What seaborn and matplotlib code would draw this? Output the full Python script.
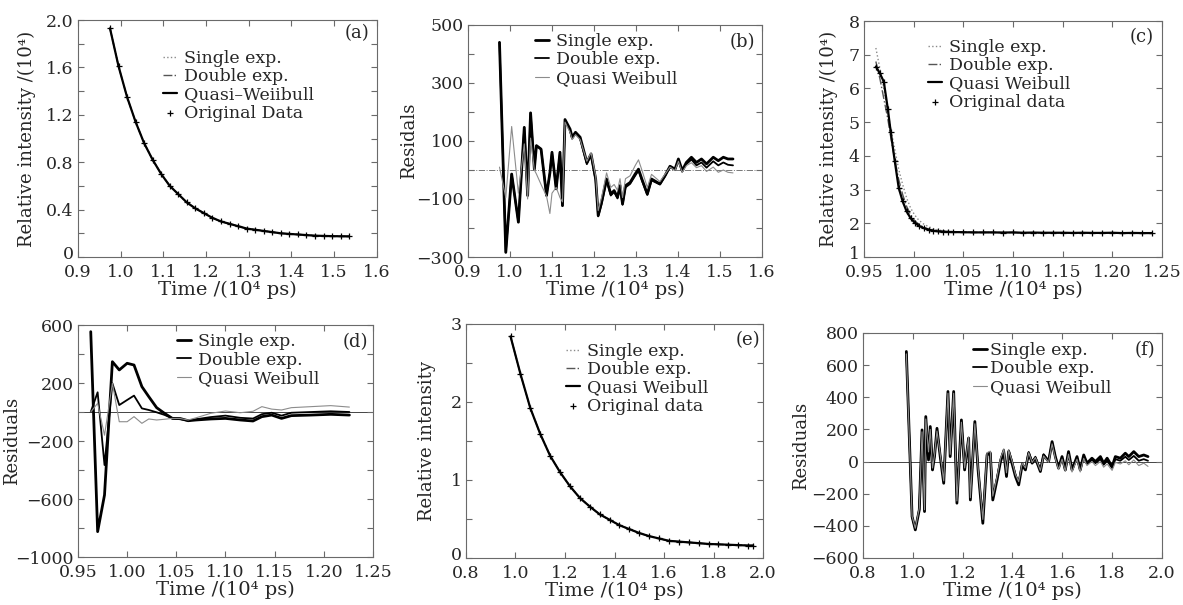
import numpy as np
import matplotlib
matplotlib.use("Agg")
import matplotlib.pyplot as plt
import matplotlib.transforms as mtransforms
import seaborn as sns
from matplotlib.ticker import MultipleLocator

# ─────────────────────────────────────────
# Data (time in 10^4 ps)
# ─────────────────────────────────────────
# (a) decay curve, fits coincide with the data
time_a = [0.975, 0.995, 1.015, 1.035, 1.055, 1.075, 1.095, 1.115, 1.135, 1.155,
          1.175, 1.195, 1.215, 1.235, 1.255, 1.275, 1.295, 1.315, 1.335, 1.355,
          1.375, 1.395, 1.415, 1.435, 1.455, 1.475, 1.495, 1.515, 1.535]
int_a = [1.93, 1.61, 1.35, 1.14, 0.96, 0.82, 0.70, 0.60, 0.53, 0.46,
         0.41, 0.37, 0.33, 0.30, 0.28, 0.26, 0.24, 0.23, 0.22, 0.21,
         0.20, 0.195, 0.19, 0.185, 0.18, 0.178, 0.176, 0.175, 0.174]

# (b) residuals for (a)
time_b = [0.975, 0.990, 1.004, 1.020, 1.034, 1.042, 1.049, 1.058, 1.063, 1.074,
          1.087, 1.095, 1.100, 1.110, 1.119, 1.125, 1.131, 1.143, 1.148, 1.156,
          1.167, 1.183, 1.193, 1.204, 1.210, 1.218, 1.230, 1.240, 1.248, 1.256,
          1.262, 1.268, 1.275, 1.286, 1.298, 1.306, 1.314, 1.327, 1.337, 1.357,
          1.369, 1.381, 1.393, 1.401, 1.410, 1.420, 1.432, 1.444, 1.456, 1.468,
          1.484, 1.496, 1.508, 1.519, 1.531]
single_b = [440, -284, -14, -180, 147, -88, 197, 3, 84, 72,
            -88, -10, 61, -65, 61, -123, 174, 141, 113, 130,
            113, 26, 55, -31, -157, -112, -31, -83, -71, -94,
            -54, -117, -54, -43, -14, 3, -31, -83, -31, -48,
            -20, 13, 3, 38, -2, 26, 44, 26, 38, 21,
            44, 32, 44, 38, 38]
double_b = [440, -284, -14, -180, 147, -88, 197, 3, 84, 72,
            -88, -10, 61, -65, 61, -123, 170, 135, 108, 125,
            108, 20, 50, -36, -160, -118, -36, -88, -76, -98,
            -60, -120, -60, -48, -20, -2, -36, -86, -36, -50,
            -22, 10, 0, 34, -6, 20, 36, 16, 26, 8,
            30, 16, 26, 18, 16]
quasi_b = [10, -95, 150, -80, 90, -100, 110, 0, -14, -50,
           -90, -150, -80, -60, -95, -110, 165, 130, 105, 122,
           105, 30, 60, -20, -140, -95, -10, -60, -50, -70,
           -30, -95, -30, -20, 15, 35, 0, -60, -15, -40,
           -15, 10, -2, 30, -8, 15, 25, 8, 15, -5,
           10, -8, 0, -8, -10]

# (c) decay curve with three fits
time_c = [0.962, 0.966, 0.970, 0.974, 0.977, 0.981, 0.985, 0.989, 0.993, 0.997,
          1.001, 1.005, 1.010, 1.015, 1.020, 1.025, 1.030, 1.035, 1.040, 1.050,
          1.060, 1.070, 1.080, 1.090, 1.100, 1.110, 1.120, 1.130, 1.140, 1.150,
          1.160, 1.170, 1.180, 1.190, 1.200, 1.210, 1.220, 1.230, 1.240]
data_c = [6.65, 6.45, 6.20, 5.40, 4.70, 3.85, 3.05, 2.65, 2.35, 2.15,
          2.02, 1.93, 1.86, 1.81, 1.78, 1.76, 1.75, 1.745, 1.74, 1.735,
          1.73, 1.73, 1.73, 1.725, 1.73, 1.72, 1.725, 1.72, 1.72, 1.72,
          1.715, 1.72, 1.715, 1.715, 1.72, 1.71, 1.715, 1.71, 1.71]
single_c = [7.20, 6.60, 6.00, 5.30, 4.80, 4.20, 3.60, 3.15, 2.75, 2.45,
            2.25, 2.10, 1.98, 1.90, 1.84, 1.80, 1.78, 1.76, 1.75, 1.74,
            1.73, 1.73, 1.73, 1.725, 1.725, 1.72, 1.72, 1.72, 1.72, 1.72,
            1.715, 1.715, 1.715, 1.715, 1.715, 1.71, 1.71, 1.71, 1.71]
double_c = [6.80, 6.30, 5.70, 5.10, 4.55, 3.90, 3.30, 2.85, 2.50, 2.25,
            2.08, 1.97, 1.88, 1.83, 1.80, 1.78, 1.76, 1.75, 1.745, 1.74,
            1.73, 1.73, 1.73, 1.725, 1.725, 1.72, 1.72, 1.72, 1.72, 1.72,
            1.715, 1.715, 1.715, 1.715, 1.715, 1.71, 1.71, 1.71, 1.71]

# (d) residuals for (c)
time_d = [0.963, 0.970, 0.977, 0.985, 0.992, 1.000, 1.007, 1.015, 1.022, 1.030,
          1.038, 1.046, 1.054, 1.062, 1.070, 1.085, 1.100, 1.115, 1.128, 1.137,
          1.147, 1.157, 1.167, 1.187, 1.207, 1.226]
single_d = [554, -825, -572, 347, 290, 336, 324, 175, 106, 30,
            -9, -44, -45, -60, -55, -48, -44, -55, -62, -32,
            -21, -44, -25, -21, -16, -21]
double_d = [0, 136, -366, 198, 48, 83, 113, 25, 14, -2,
            -20, -44, -50, -60, -50, -35, -25, -40, -45, -15,
            -5, -25, -5, 0, 5, 0]
quasi_d = [0, 60, -160, 198, -67, -67, -32, -78, -48, -55,
           -50, -44, -45, -55, -40, -9, 7, -5, 5, 37,
           20, 14, 30, 37, 44, 34]

# (e) decay curve, fits coincide with the data
time_e = [0.98, 1.02, 1.06, 1.10, 1.14, 1.18, 1.22, 1.26, 1.30, 1.34,
          1.38, 1.42, 1.46, 1.50, 1.54, 1.58, 1.62, 1.66, 1.70, 1.74,
          1.78, 1.82, 1.86, 1.90, 1.94, 1.96]
int_e = [2.84, 2.36, 1.92, 1.59, 1.31, 1.10, 0.92, 0.77, 0.66, 0.56,
         0.49, 0.42, 0.37, 0.32, 0.28, 0.25, 0.22, 0.21, 0.20, 0.19,
         0.18, 0.175, 0.17, 0.165, 0.16, 0.16]

# (f) residuals for (e)
time_f = [0.974, 0.997, 1.010, 1.026, 1.037, 1.047, 1.052, 1.063, 1.070, 1.079,
          1.087, 1.097, 1.110, 1.124, 1.141, 1.150, 1.164, 1.177, 1.195, 1.208,
          1.224, 1.231, 1.249, 1.262, 1.281, 1.298, 1.311, 1.321, 1.338, 1.352,
          1.365, 1.376, 1.385, 1.398, 1.412, 1.425, 1.439, 1.452, 1.465, 1.479,
          1.492, 1.512, 1.525, 1.545, 1.559, 1.572, 1.585, 1.599, 1.612, 1.625,
          1.639, 1.659, 1.672, 1.686, 1.699, 1.719, 1.733, 1.753, 1.766, 1.780,
          1.800, 1.813, 1.833, 1.853, 1.867, 1.887, 1.907, 1.927, 1.944]
single_f = [685, -342, -425, -300, 197, -311, 280, 10, 218, -52,
            31, 207, 31, -135, 436, 31, 436, -259, 259, -52,
            145, -239, 249, -52, -384, 41, 52, -239, -114, 0,
            62, -93, 62, -10, -93, -145, -21, -52, 52, -10,
            21, -62, 41, 0, 124, 31, -41, 31, -52, 62,
            -52, 31, -52, 41, -10, 21, 0, 31, -10, 21,
            -31, 31, 21, 52, 31, 62, 31, 41, 31]
double_f = [680, -345, -420, -295, 190, -305, 270, 20, 210, -45,
            35, 200, 40, -125, 430, 40, 430, -250, 250, -45,
            150, -230, 240, -45, -370, 50, 60, -220, -100, 15,
            75, -75, 70, 5, -80, -130, -10, -40, 60, 0,
            30, -50, 45, 5, 120, 30, -40, 25, -55, 55,
            -55, 25, -55, 30, -15, 10, -10, 15, -20, 5,
            -40, 15, 5, 30, 10, 35, 5, 15, 5]
quasi_f = [670, -340, -415, -290, 185, -300, 265, 60, 200, -40,
           40, 190, 45, -120, 425, 45, 425, -245, 245, -40,
           150, -225, 235, -40, -360, 55, 65, -215, -95, 20,
           75, -70, 70, 5, -80, -125, -10, -40, 55, -5,
           25, -55, 35, -5, 110, 20, -50, 15, -60, 45,
           -65, 15, -65, 20, -25, 0, -25, 0, -35, -15,
           -55, -5, -15, 5, -20, 10, -25, -10, -30]

# ─────────────────────────────────────────
# Style
# ─────────────────────────────────────────
sns.set_style("ticks")
plt.rcParams['font.family'] = ['DejaVu Serif']
plt.rcParams['font.size'] = 12.5
plt.rcParams['axes.unicode_minus'] = True

FRAME = '#6a6a6a'
LIGHT = '#8c8c8c'

fig = plt.figure(figsize=(11.83, 6.05), dpi=100)

rects = {
    'a': [0.0659, 0.5752, 0.2527, 0.3917],
    'b': [0.3956, 0.5752, 0.2485, 0.3835],
    'c': [0.7303, 0.5752, 0.2519, 0.3900],
    'd': [0.0659, 0.0793, 0.2494, 0.3835],
    'e': [0.3939, 0.0777, 0.2511, 0.3868],
    'f': [0.7295, 0.0777, 0.2527, 0.3719],
}
axs = {k: fig.add_axes(r) for k, r in rects.items()}


def frame(ax, tag, tag_xy, ylabel, ylab_x, lift_bottom=False):
    for s in ax.spines.values():
        s.set_color(FRAME)
        s.set_linewidth(0.8)
        s.set_linestyle((0, (3, 1)))
    ax.tick_params(which='both', direction='in', top=True, right=True,
                   color=FRAME, width=0.8, length=4, labelsize=12.5)
    ax.tick_params(axis='x', pad=5)
    ax.tick_params(axis='y', pad=3)
    ax.text(tag_xy[0], tag_xy[1], f'({tag})', transform=ax.transAxes,
            ha='center', va='center', fontsize=13)
    ax.set_xlabel('Time /(10⁴ ps)', fontsize=14, labelpad=0)
    ax.set_ylabel(ylabel, fontsize=13)
    ax.yaxis.set_label_coords(ylab_x, 0.5)
    if lift_bottom:
        # bottom y label sits right on the corner, nudge it up a little
        lbl = ax.yaxis.get_major_ticks()[0].label1
        lbl.set_transform(lbl.get_transform() +
                          mtransforms.ScaledTranslation(0, 3 / 72, fig.dpi_scale_trans))


def add_legend(ax, anchor, pad=0.4):
    ax.legend(loc='upper left', bbox_to_anchor=anchor, frameon=False,
              handlelength=0.8, handletextpad=pad, labelspacing=0.08,
              borderpad=0, borderaxespad=0, fontsize=12.5)


def decay_panel(ax, t, y_single, y_double, y_quasi, y_data, labels):
    sns.lineplot(x=t, y=y_single, ax=ax, color='#8a8a8a', lw=1.0,
                 linestyle=':', label=labels[0], sort=False, estimator=None)
    sns.lineplot(x=t, y=y_double, ax=ax, color='#555555', lw=1.0,
                 linestyle='-.', label=labels[1], sort=False, estimator=None)
    sns.lineplot(x=t, y=y_quasi, ax=ax, color='black', lw=1.6,
                 label=labels[2], sort=False, estimator=None)
    sns.scatterplot(x=t, y=y_data, ax=ax, color='black', marker='+', s=24,
                    linewidth=0.9, label=labels[3], zorder=4)


def resid_panel(ax, t, y_single, y_double, y_quasi, zero_style):
    ax.axhline(0, **zero_style)
    sns.lineplot(x=t, y=y_single, ax=ax, color='black', lw=2.0,
                 label='Single exp.', sort=False, estimator=None)
    sns.lineplot(x=t, y=y_double, ax=ax, color='black', lw=1.3,
                 label='Double exp.', sort=False, estimator=None)
    sns.lineplot(x=t, y=y_quasi, ax=ax, color=LIGHT, lw=0.8,
                 label='Quasi Weibull', sort=False, estimator=None)


# (a)
ax = axs['a']
decay_panel(ax, time_a, int_a, int_a, int_a, int_a,
            ['Single exp.', 'Double exp.', 'Quasi\u2013Weiibull', 'Original Data'])
ax.set_xlim(0.9, 1.6)
ax.set_xticks([0.9, 1.0, 1.1, 1.2, 1.3, 1.4, 1.5, 1.6])
ax.set_xticklabels(['0.9', '1.0', '1.1', '1.2', '1.3', '1.4', '1.5', '1.6'])
ax.set_ylim(0, 2.0)
ax.set_yticks([0, 0.4, 0.8, 1.2, 1.6, 2.0])
ax.set_yticklabels(['0', '0.4', '0.8', '1.2', '1.6', '2.0'])
ax.yaxis.set_minor_locator(MultipleLocator(0.2))
frame(ax, 'a', (0.933, 0.945), 'Relative intensity /(10⁴)', -0.140, True)
add_legend(ax, (0.284, 0.875))

# (b)
ax = axs['b']
resid_panel(ax, time_b, single_b, double_b, quasi_b,
            dict(color='#777777', lw=0.7, linestyle='-.', zorder=0))
ax.set_xlim(0.9, 1.6)
ax.set_xticks([0.9, 1.0, 1.1, 1.2, 1.3, 1.4, 1.5, 1.6])
ax.set_xticklabels(['0.9', '1.0', '1.1', '1.2', '1.3', '1.4', '1.5', '1.6'])
ax.set_ylim(-300, 500)
ax.set_yticks([-300, -100, 100, 300, 500])
ax.yaxis.set_minor_locator(MultipleLocator(100))
frame(ax, 'b', (0.935, 0.927), 'Residals', -0.170)
add_legend(ax, (0.228, 0.965))

# (c)
ax = axs['c']
decay_panel(ax, time_c, single_c, double_c, data_c, data_c,
            ['Single exp.', 'Double exp.', 'Quasi Weibull', 'Original data'])
ax.set_xlim(0.95, 1.25)
ax.set_xticks([0.95, 1.00, 1.05, 1.10, 1.15, 1.20, 1.25])
ax.set_xticklabels(['0.95', '1.00', '1.05', '1.10', '1.15', '1.20', '1.25'])
ax.set_ylim(1, 8)
ax.set_yticks([1, 2, 3, 4, 5, 6, 7, 8])
frame(ax, 'c', (0.933, 0.932), 'Relative intensity /(10⁴)', -0.087, True)
add_legend(ax, (0.215, 0.925))

# (d)
ax = axs['d']
resid_panel(ax, time_d, single_d, double_d, quasi_d,
            dict(color='#444444', lw=0.7, zorder=0))
ax.set_xlim(0.95, 1.25)
ax.set_xticks([0.95, 1.00, 1.05, 1.10, 1.15, 1.20, 1.25])
ax.set_xticklabels(['0.95', '1.00', '1.05', '1.10', '1.15', '1.20', '1.25'])
ax.set_ylim(-1000, 600)
ax.set_yticks([-1000, -600, -200, 200, 600])
ax.yaxis.set_minor_locator(MultipleLocator(200))
frame(ax, 'd', (0.939, 0.927), 'Residuals', -0.193)
add_legend(ax, (0.336, 0.965))

# (e)
ax = axs['e']
decay_panel(ax, time_e, int_e, int_e, int_e, int_e,
            ['Single exp.', 'Double exp.', 'Quasi Weibull', 'Original data'])
ax.set_xlim(0.8, 2.0)
ax.set_xticks([0.8, 1.0, 1.2, 1.4, 1.6, 1.8, 2.0])
ax.set_xticklabels(['0.8', '1.0', '1.2', '1.4', '1.6', '1.8', '2.0'])
ax.set_ylim(0, 3)
ax.set_yticks([0, 1, 2, 3])
ax.yaxis.set_minor_locator(MultipleLocator(0.5))
frame(ax, 'e', (0.949, 0.932), 'Relative intensity', -0.101, True)
add_legend(ax, (0.337, 0.92))

# (f)
ax = axs['f']
resid_panel(ax, time_f, single_f, double_f, quasi_f,
            dict(color='#444444', lw=0.7, zorder=0))
ax.set_xlim(0.8, 2.0)
ax.set_xticks([0.8, 1.0, 1.2, 1.4, 1.6, 1.8, 2.0])
ax.set_xticklabels(['0.8', '1.0', '1.2', '1.4', '1.6', '1.8', '2.0'])
ax.set_ylim(-600, 800)
ax.set_yticks([-600, -400, -200, 0, 200, 400, 600, 800])
frame(ax, 'f', (0.943, 0.924), 'Residuals', -0.177)
add_legend(ax, (0.368, 0.96), pad=0.15)

fig.savefig('out.png', dpi=100)
